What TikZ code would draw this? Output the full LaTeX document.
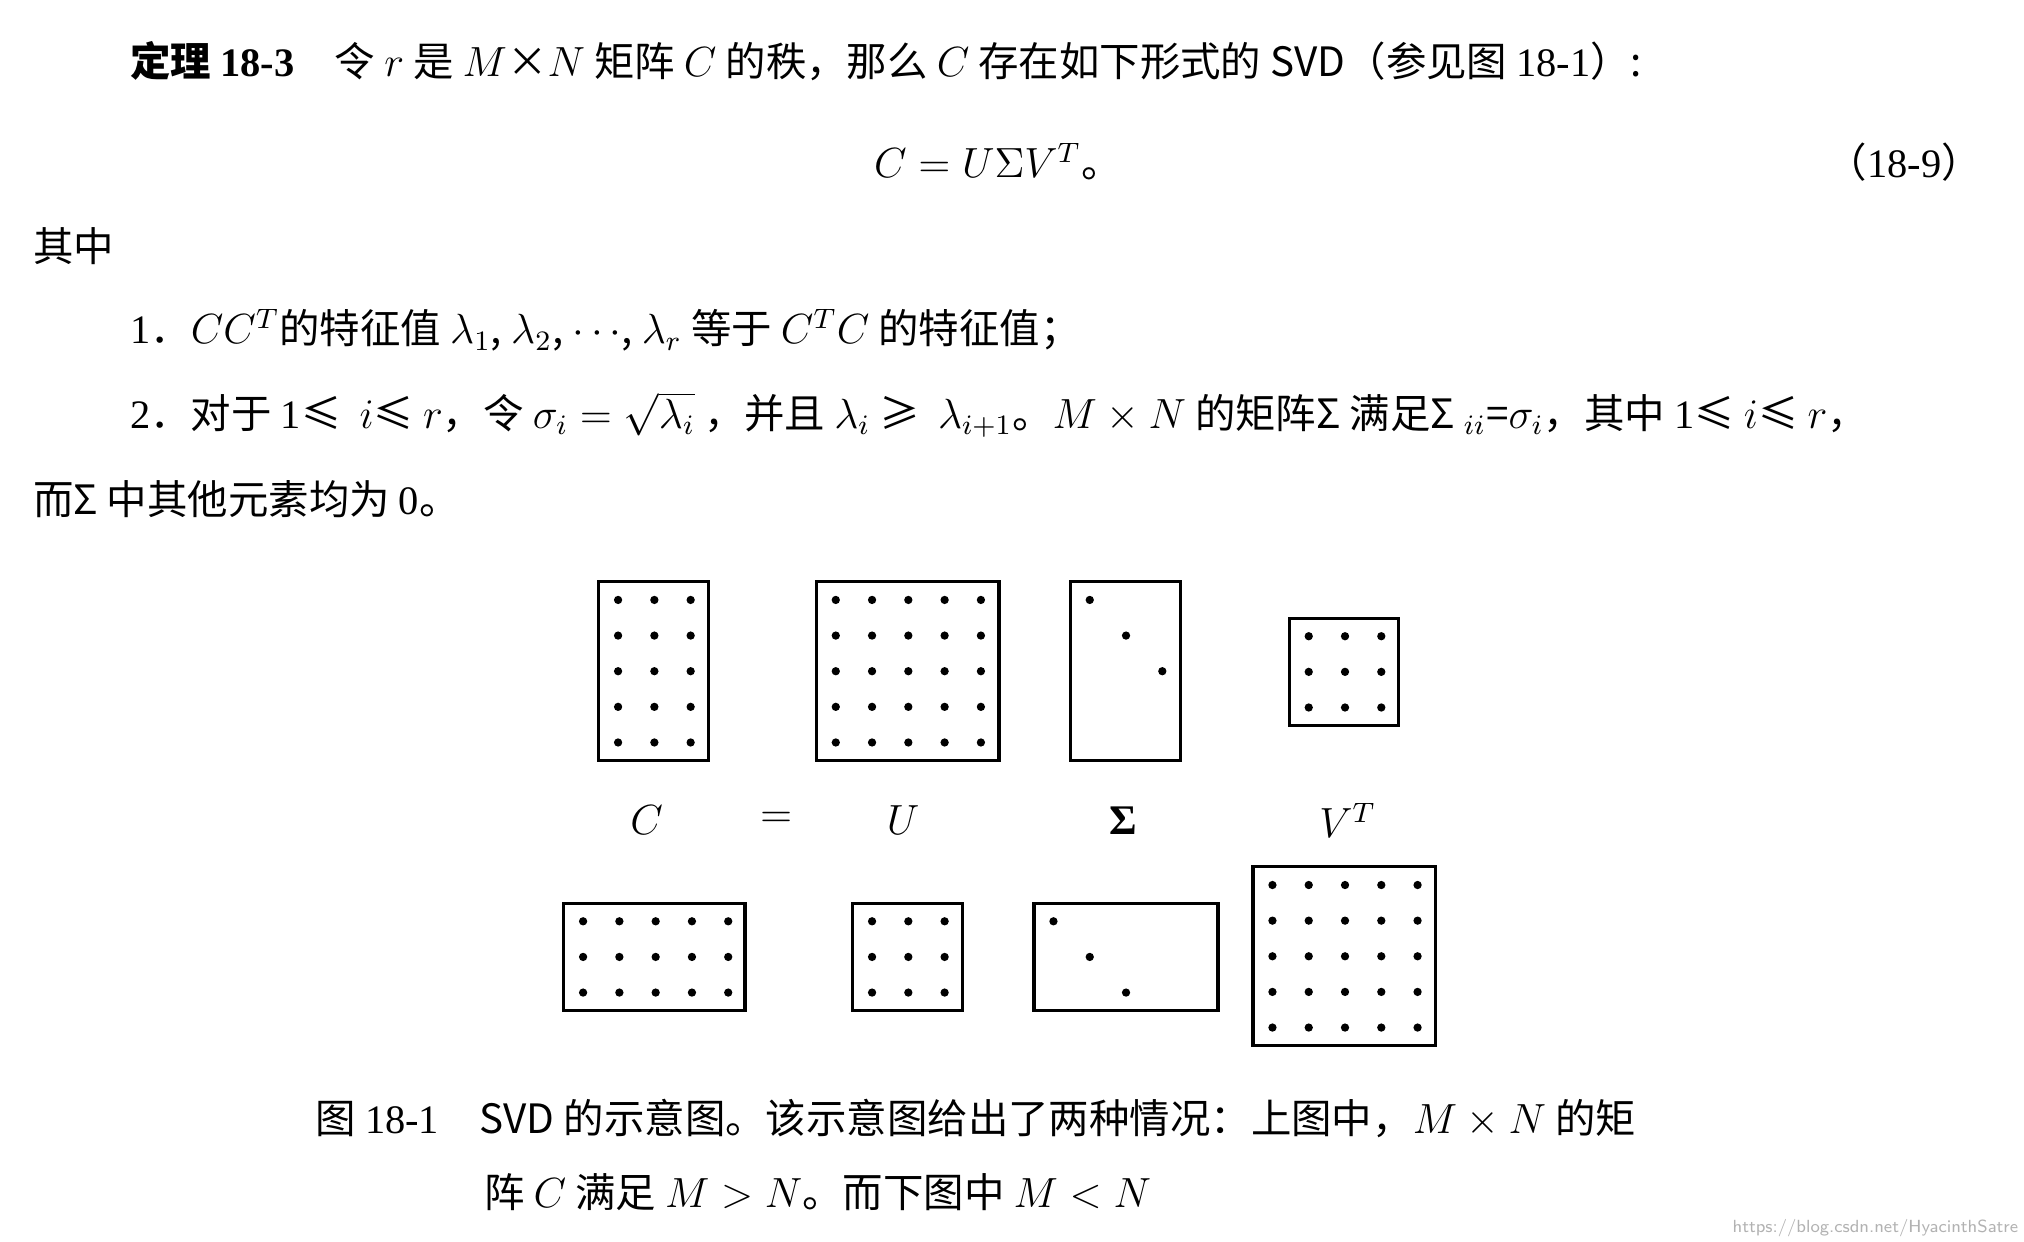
\documentclass[tikz,border=0pt]{standalone}
\usepackage{fontspec}
\setmainfont{Noto Sans CJK SC}
\newfontfamily\tms{Liberation Serif}
\usetikzlibrary{positioning}
\tikzstyle{matrixbox}=[draw,line width=0.9pt,inner sep=0pt]
\tikzstyle{textline}=[anchor=west,inner sep=0pt,font=\fontsize{11.5}{13}\selectfont]
\tikzstyle{label}=[font=\fontsize{12}{14}\selectfont\tms]
\newcommand{\px}{0.01296cm}
\newcommand{\dotgrid}[4]{% x0, y0, columns, rows
  \foreach \i in {1,...,#3} \foreach \j in {1,...,#4}
    \fill ({#1+(\i-1)*28},{#2+(\j-1)*27.5}) circle (3.2);}
\begin{document}
\begin{tikzpicture}[x=0.01296cm,y=-0.01296cm]
\useasboundingbox (0,0) rectangle (1562,958);
% text
  \node[textline] (l1) at (100,47) {\textbf{定理 {\tms 18-3}}\quad 令 $r$ 是 $M$×$N$ 矩阵 $C$ 的秩，那么 $C$ 存在如下形式的 SVD（参见图 {\tms 18-1}）:};
  \node[textline,anchor=center] (eq) at (770,125) {$C=U\Sigma V^T$。};
  \node[textline,anchor=east] (eqn) at (1530,125) {（{\tms 18-9}）};
  \node[textline] (l3) at (25,190) {其中};
  \node[textline] (l4) at (100,255) {{\tms 1}．$CC^T$的特征值 $\lambda_1$, $\lambda_2$, $\cdots$, $\lambda_r$ 等于 $C^TC$ 的特征值；};
  \node[textline] (l5) at (100,320) {{\tms 2}．对于 {\tms 1}≤\ \ $i$≤ $r$，令 $\sigma_i=\sqrt{\lambda_i}$\ ，并且 $\lambda_i$ ≥\ \ $\lambda_{i+1}$。$M\times N$ 的矩阵Σ 满足Σ $_{ii}$=$\sigma_i$，其中 {\tms 1}≤ $i$≤ $r$，};
  \node[textline] (l6) at (25,385) {而Σ 中其他元素均为 {\tms 0}。};
% upper case M > N
  \node[matrixbox,minimum width=85*\px,minimum height=138*\px] (c1) at (504.5,518) {};
  \dotgrid{477}{463}{3}{5}
  \node[matrixbox,minimum width=141*\px,minimum height=138*\px] (u1) at (700.5,518) {};
  \dotgrid{645}{463}{5}{5}
  \node[matrixbox,minimum width=85*\px,minimum height=138*\px] (s1) at (868.5,518) {};
  \foreach \k in {0,1,2} \fill ({841+\k*28},{463+\k*27.5}) circle (3.2);
  \node[matrixbox,minimum width=84*\px,minimum height=83*\px] (v1) at (1037,518.5) {};
  \dotgrid{1010}{491}{3}{3}
% labels
  \node[label] (lc) at (499,633) {$C$};
  \node[label] (leq) at (599,633) {$=$};
  \node[label] (lu) at (697,633) {$U$};
  \node[label] (ls) at (867,633) {\bfseries Σ};
  \node[label] (lv) at (1040,633) {$V^T$};
% lower case M < N
  \node[matrixbox,minimum width=140*\px,minimum height=83*\px] (c2) at (505,738.5) {};
  \dotgrid{450}{711}{5}{3}
  \node[matrixbox,minimum width=85*\px,minimum height=83*\px] (u2) at (700.5,738.5) {};
  \dotgrid{673}{711}{3}{3}
  \node[matrixbox,minimum width=142*\px,minimum height=83*\px] (s2) at (869,738.5) {};
  \foreach \k in {0,1,2} \fill ({813+\k*28},{711+\k*27.5}) circle (3.2);
  \node[matrixbox,minimum width=141*\px,minimum height=138*\px] (v2) at (1037.5,738) {};
  \dotgrid{982}{683}{5}{5}
% caption
  \node[textline] (cap1) at (243,863) {图 {\tms 18-1}\quad SVD 的示意图。该示意图给出了两种情况：上图中，$M\times N$ 的矩};
  \node[textline] (cap2) at (373,920) {阵 $C$ 满足 $M>N$。而下图中 $M<N$};
  \node[anchor=east,inner sep=0pt,font=\fontsize{5}{6}\selectfont\sffamily,text=gray!60] (wm) at (1558,948) {https://blog.csdn.net/HyacinthSatre};
\end{tikzpicture}
\end{document}
